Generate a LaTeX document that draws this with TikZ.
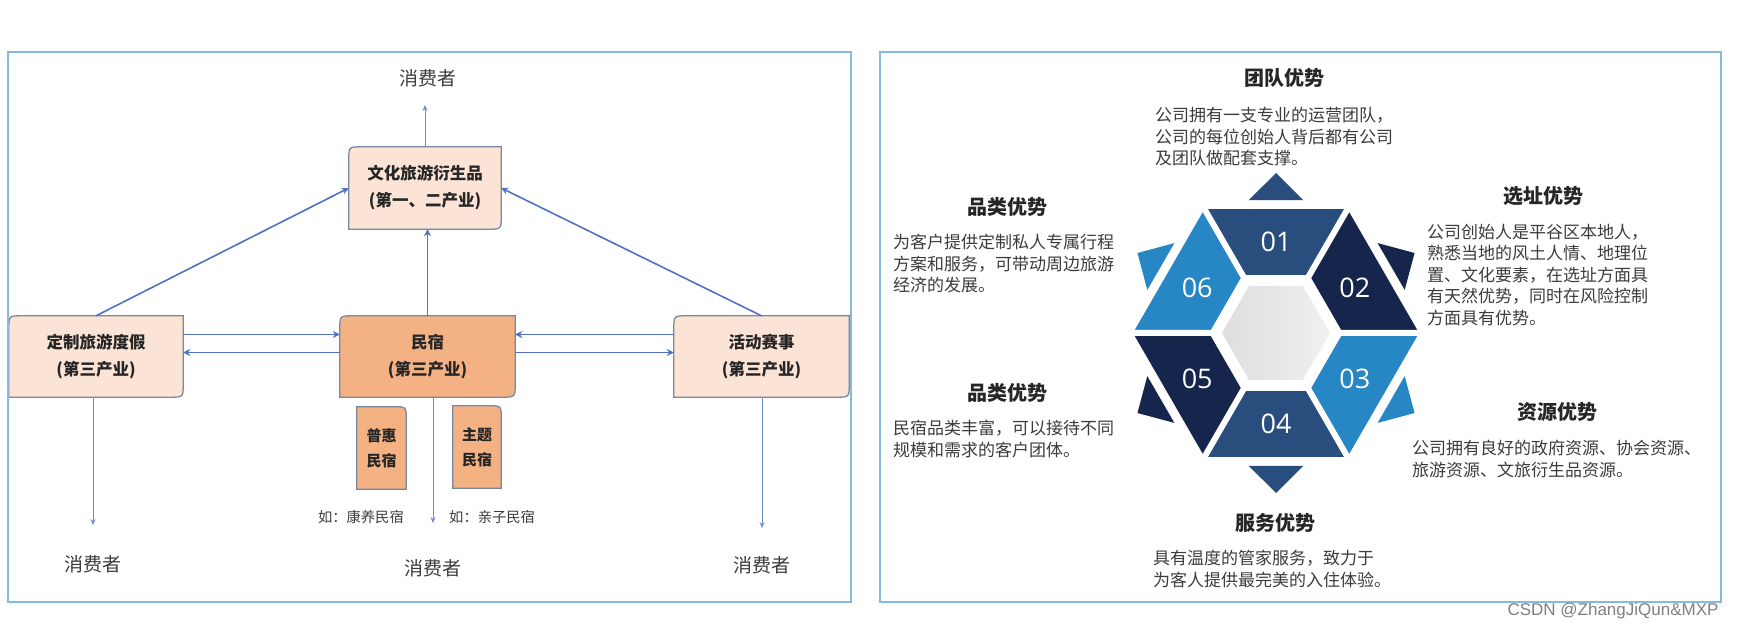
\documentclass[tikz,border=0pt]{standalone}
\usepackage{fontspec}
\setmainfont{Noto Sans CJK SC}
\newfontfamily\numfont{Open Sans}
\newfontfamily\markfont{Liberation Sans}
\usetikzlibrary{arrows.meta,positioning}
\pgfdeclarelayer{background}
\pgfsetlayers{background,main}

\definecolor{framecol}{RGB}{135,185,218}
\definecolor{peach}{RGB}{251,228,213}
\definecolor{orangebox}{RGB}{244,177,131}
\definecolor{boxgray}{RGB}{125,135,155}
\definecolor{arrowblue}{RGB}{79,114,196}
\definecolor{thinblue}{RGB}{110,140,210}
\definecolor{hexmid}{RGB}{41,78,125}
\definecolor{hexdark}{RGB}{22,37,75}
\definecolor{hexlight}{RGB}{39,134,196}
\definecolor{txtgray}{RGB}{60,60,60}

\tikzset{
  boxtext/.style={font=\fontsize{16.5}{27}\selectfont\bfseries, align=center, text=black!85, inner sep=0pt},
  smalltext/.style={font=\fontsize{15}{25}\selectfont\bfseries, align=center, text=black!85, inner sep=0pt},
  buyer/.style={font=\fontsize{19}{23}\selectfont, text=txtgray, inner sep=2pt},
  note/.style={font=\fontsize{14.3}{17}\selectfont, text=txtgray, inner sep=0pt},
  flow/.style={draw=arrowblue, line width=1.6pt, -{Stealth[length=7pt,width=7pt]}},
  buyflow/.style={draw=thinblue, line width=0.9pt, -{Stealth[length=6pt,width=5pt]}},
  boxline/.style={draw=boxgray, line width=1.3pt},
  head/.style={font=\fontsize{20}{24}\selectfont\bfseries, text=black!85},
  body/.style={font=\fontsize{17}{21.5}\selectfont, text=txtgray, align=left, anchor=north west, inner sep=0pt},
  num/.style={font=\numfont\fontsize{27}{30}\selectfont, text=white},
  gap/.style={draw=white, line width=6pt},
}

\newcommand{\diagbox}[2]{%
  \begin{pgfonlayer}{background}
  \filldraw[boxline, fill=#2] ([yshift=-13pt]#1.north west) .. controls (#1.north west) .. ([xshift=13pt]#1.north west) -- (#1.north east) -- ([yshift=13pt]#1.south east) .. controls (#1.south east) .. ([xshift=-13pt]#1.south east) -- (#1.south west) -- cycle;
  \end{pgfonlayer}}
\newcommand{\tabbox}[2]{%
  \begin{pgfonlayer}{background}
  \filldraw[boxline, fill=#2] (#1.south west) -- (#1.north west) -- ([xshift=-11pt]#1.north east) .. controls (#1.north east) .. ([yshift=-11pt]#1.north east) -- (#1.south east) -- cycle;
  \end{pgfonlayer}}

\begin{document}
\begin{tikzpicture}[x=1pt,y=-1pt]
\begin{pgfonlayer}{background}
\fill[white] (0,0) rectangle (1741,628);
\end{pgfonlayer}
\useasboundingbox (0,0) rectangle (1741,628);

\draw[framecol, line width=2pt] (8,52) rectangle (851,602);
\draw[framecol, line width=2pt] (880,52) rectangle (1721,602);

\node[boxtext, minimum width=152pt, minimum height=82pt] (prod) at (425,188) {文化旅游衍生品\\(第一、二产业)};
\node[boxtext, minimum width=174pt, minimum height=81pt] (trip) at (96,356.5) {定制旅游度假\\(第三产业)};
\node[boxtext, minimum width=175pt, minimum height=81pt] (minsu) at (427.5,356.5) {民宿\\(第三产业)};
\node[boxtext, minimum width=175pt, minimum height=81pt] (event) at (761.5,356.5) {活动赛事\\(第三产业)};
\node[smalltext, minimum width=49pt, minimum height=82pt] (puhui) at (381.5,448) {普惠\\民宿};
\node[smalltext, minimum width=48pt, minimum height=82pt] (zhuti) at (477,447) {主题\\民宿};
\diagbox{prod}{peach}
\diagbox{trip}{peach}
\diagbox{minsu}{orangebox}
\diagbox{event}{peach}
\tabbox{puhui}{orangebox}
\tabbox{zhuti}{orangebox}

\node[note, anchor=east] (note1) at (404,517) {如：康养民宿};
\node[note, anchor=west] (note2) at (449,517) {如：亲子民宿};

\node[buyer] (buyTop) at (428,78) {消费者};
\node[buyer] (buyLeft) at (93,564) {消费者};
\node[buyer] (buyMid) at (433,568) {消费者};
\node[buyer] (buyRight) at (762,565) {消费者};

\draw[flow] (trip.north) -- (prod.west);
\draw[flow] (event.north) -- (prod.east);
\draw[flow] (minsu.north) -- (minsu.north |- prod.south);
\draw[flow] ([yshift=22pt]trip.east) -- ([yshift=22pt]minsu.west);
\draw[flow] ([yshift=4pt]minsu.west) -- ([yshift=4pt]trip.east);
\draw[flow] ([yshift=22pt]event.west) -- ([yshift=22pt]minsu.east);
\draw[flow] ([yshift=4pt]minsu.east) -- ([yshift=4pt]event.west);

\draw[buyflow, shorten >=16pt] (prod.north) -- (prod.north |- buyTop.south);
\draw[buyflow, shorten >=28pt] (buyLeft.north |- trip.south) -- (buyLeft.north);
\draw[buyflow, shorten >=34pt] (buyMid.north |- minsu.south) -- (buyMid.north);
\draw[buyflow, shorten >=26pt] (buyRight.north |- event.south) -- (buyRight.north);

% hexagon
\begin{scope}[shift={(1276,333)}, y=1pt]
\fill[hexmid] (60:67) -- (60:143) -- (120:143) -- (120:67) -- cycle;
\fill[hexdark] (0:67) -- (0:143) -- (60:143) -- (60:67) -- cycle;
\fill[hexlight] (-60:67) -- (-60:143) -- (0:143) -- (0:67) -- cycle;
\fill[hexmid] (-120:67) -- (-120:143) -- (-60:143) -- (-60:67) -- cycle;
\fill[hexdark] (180:67) -- (180:143) -- (240:143) -- (240:67) -- cycle;
\fill[hexlight] (120:67) -- (120:143) -- (180:143) -- (180:67) -- cycle;

\fill[hexmid] (78.5:135.7) -- (90:160) -- (101.5:135.7) -- cycle;
\fill[hexdark] (18.5:135.7) -- (30:160) -- (41.5:135.7) -- cycle;
\fill[hexlight] (-41.5:135.7) -- (-30:160) -- (-18.5:135.7) -- cycle;
\fill[hexmid] (-101.5:135.7) -- (-90:160) -- (-78.5:135.7) -- cycle;
\fill[hexdark] (198.5:135.7) -- (210:160) -- (221.5:135.7) -- cycle;
\fill[hexlight] (138.5:135.7) -- (150:160) -- (161.5:135.7) -- cycle;

\draw[gap] (0:60) -- (0:150) (60:60) -- (60:150) (120:60) -- (120:150)
  (180:60) -- (180:150) (240:60) -- (240:150) (300:60) -- (300:150);

\shade[left color=black!13, right color=black!6] (0:54) -- (60:54) -- (120:54) -- (180:54) -- (240:54) -- (300:54) -- cycle;

\node[num] (n01) at (90:91) {01};
\node[num] (n02) at (30:91) {02};
\node[num] (n03) at (-30:91) {03};
\node[num] (n04) at (-90:91) {04};
\node[num] (n05) at (210:91) {05};
\node[num] (n06) at (150:91) {06};
\end{scope}

\node[head] (h1) at (1284,78) {团队优势};
\node[body] (b1) at (1155,107) {公司拥有一支专业的运营团队，\\公司的每位创始人背后都有公司\\及团队做配套支撑。};
\node[head] (h2) at (1543,196) {选址优势};
\node[body] (b2) at (1427,224) {公司创始人是平谷区本地人，\\熟悉当地的风土人情、地理位\\置、文化要素，在选址方面具\\有天然优势，同时在风险控制\\方面具有优势。};
\node[head] (h3) at (1007,207) {品类优势};
\node[body] (b3) at (893,234) {为客户提供定制私人专属行程\\方案和服务，可带动周边旅游\\经济的发展。};
\node[head] (h4) at (1007,393) {品类优势};
\node[body] (b4) at (893,420) {民宿品类丰富，可以接待不同\\规模和需求的客户团体。};
\node[head] (h5) at (1557,412) {资源优势};
\node[body] (b5) at (1412,440) {公司拥有良好的政府资源、协会资源、\\旅游资源、文旅衍生品资源。};
\node[head] (h6) at (1275,523) {服务优势};
\node[body] (b6) at (1153,550) {具有温度的管家服务，致力于\\为客人提供最完美的入住体验。};

\node[font=\markfont\fontsize{17}{20}\selectfont, text=black!50, anchor=east] (mark) at (1722,611) {CSDN @ZhangJiQun\&MXP};
\end{tikzpicture}
\end{document}
